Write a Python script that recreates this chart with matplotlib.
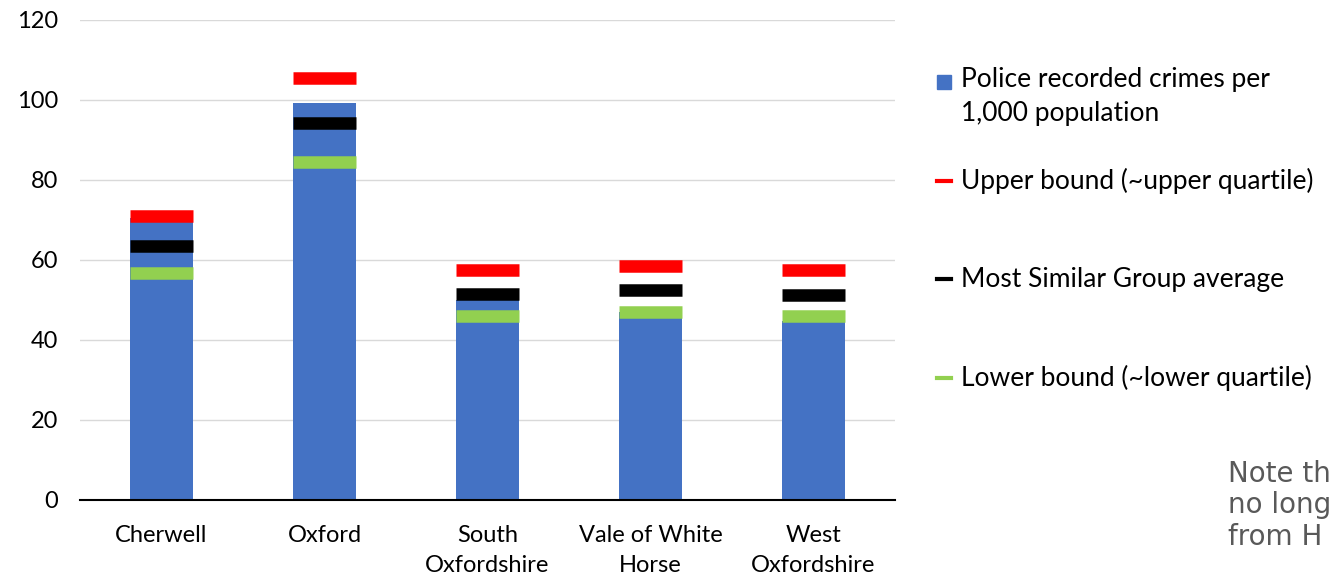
import matplotlib.pyplot as plt
from matplotlib.patches import Rectangle
from matplotlib.lines import Line2D

# Crime rates per 1,000 population, Oxfordshire districts
districts = ['Cherwell', 'Oxford', 'South\nOxfordshire', 'Vale of White\nHorse', 'West\nOxfordshire']
crimes = [70.5, 99.2, 50.0, 47.0, 44.8]
upper = [71.0, 105.4, 57.4, 58.6, 57.4]
msg_avg = [63.4, 94.3, 51.6, 52.6, 51.3]
lower = [56.8, 84.5, 46.1, 47.0, 45.9]

blue = '#4472C4'
red = '#FF0000'
green = '#92D050'
font = 'Lato'

plt.rcParams['font.family'] = [font, 'DejaVu Sans']

fig = plt.figure(figsize=(13.32, 5.76), dpi=100)
ax = fig.add_axes([80 / 1332, 76 / 576, 815 / 1332, 480 / 576])

x = list(range(len(districts)))
w = 0.39
ax.bar(x, crimes, width=w, color=blue, zorder=2)

# marker bars (~12 px thick)
lw = 9.0
for vals, col in [(upper, red), (msg_avg, 'black'), (lower, green)]:
    ax.hlines(vals, [i - w / 2 for i in x], [i + w / 2 for i in x], colors=col,
              linewidth=lw, zorder=3)

ax.set_xlim(-0.5, 4.5)
ax.set_ylim(0, 120)
ax.set_yticks(range(0, 121, 20))
ax.set_xticks(x)
ax.set_xticklabels(districts, fontsize=17, linespacing=1.5)
ax.tick_params(axis='y', length=0, pad=16, labelsize=17)
ax.tick_params(axis='x', length=0, pad=18)
ax.grid(axis='y', color='#D9D9D9', linewidth=1, zorder=0)
for s in ['top', 'right', 'left']:
    ax.spines[s].set_visible(False)
ax.spines['bottom'].set_color('black')
ax.spines['bottom'].set_linewidth(1.5)
ax.spines['bottom'].set_zorder(4)

# legend drawn by hand
txt_x = 961 / 1332
entries = [
    ('patch', blue, 'Police recorded crimes per\n1,000 population', 82),
    ('line', red, 'Upper bound (~upper quartile)', 181),
    ('line', 'black', 'Most Similar Group average', 279),
    ('line', green, 'Lower bound (~lower quartile)', 378),
]
for kind, col, label, ypix in entries:
    yf = 1 - ypix / 576
    if kind == 'patch':
        fig.patches.append(Rectangle((937 / 1332, yf - 7 / 576), 14 / 1332, 14 / 576,
                                     color=col, transform=fig.transFigure))
        fig.text(txt_x, yf + 15 / 576, label, fontsize=19, va='top', linespacing=1.45)
    else:
        fig.lines.append(Line2D([937 / 1332, 951 / 1332], [yf, yf], color=col,
                                linewidth=3, transform=fig.transFigure))
        fig.text(txt_x, yf, label, fontsize=19, va='center')

fig.text(1228 / 1332, 1 - 460 / 576, 'Note th\nno long\nfrom H', fontsize=20,
         color='#595959', va='top', linespacing=1.15, family='DejaVu Sans')

fig.savefig('out.png', dpi=100)
